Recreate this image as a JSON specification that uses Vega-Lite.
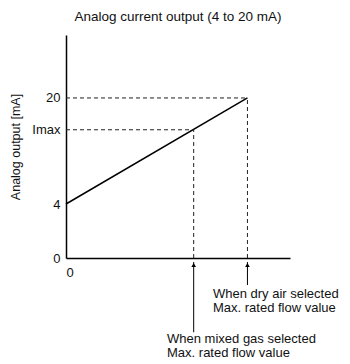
{
  "$schema": "https://vega.github.io/schema/vega-lite/v6.json",
  "autosize": "none",
  "width": 224,
  "height": 223,
  "padding": {"left": 66, "top": 35, "right": 60, "bottom": 106},
  "background": "white",
  "config": {
    "view": {"stroke": null},
    "font": "Liberation Sans",
    "axis": {"grid": false, "domainColor": "black", "domainWidth": 1.5, "ticks": false, "labelFont": "Liberation Sans", "labelFontSize": 13, "labelColor": "#111", "titleFont": "Liberation Sans", "titleFontSize": 12.5, "titleFontWeight": "normal", "titleColor": "#111"}
  },
  "title": {"text": "Analog current output (4 to 20 mA)", "font": "Liberation Sans", "fontSize": 13.5, "fontWeight": "normal", "color": "#111", "offset": 12},
  "datasets": {
    "line": [{"flow": 0, "mA": 4}, {"flow": 81, "mA": 20}],
    "guides": [
      {"flow": 0, "flow2": 81, "mA": 20, "mA2": 20},
      {"flow": 0, "flow2": 57, "mA": 15.2, "mA2": 15.2},
      {"flow": 81, "flow2": 81, "mA": 0, "mA2": 20},
      {"flow": 57, "flow2": 57, "mA": 0, "mA2": 15.2}
    ],
    "arrows": [
      {"flow": 57, "tip": -0.3, "tail": -5.5, "label": ["When mixed gas selected", "Max. rated flow value"], "labelFlow": 45.1, "labelY": -5.55},
      {"flow": 81, "tip": -0.3, "tail": -2.0, "label": ["When dry air selected", "Max. rated flow value"], "labelFlow": 65.6, "labelY": -2.2}
    ]
  },
  "layer": [
    {
      "data": {"name": "line"},
      "mark": {"type": "line", "color": "black", "strokeWidth": 1.5},
      "encoding": {
        "x": {"field": "flow", "type": "quantitative", "scale": {"domain": [0, 100], "nice": false},
          "axis": {"title": null, "values": [0], "labelExpr": "'0'", "labelAlign": "left", "labelDx": 2, "labelPadding": 8, "labelFlush": false}},
        "y": {"field": "mA", "type": "quantitative", "scale": {"domain": [0, 4, 29.5], "range": [223, 169, 0], "nice": false, "zero": false},
          "axis": {"title": "Analog output [mA]", "values": [0, 4, 15.2, 20], "labelExpr": "datum.value == 15.2 ? 'Imax' : datum.label", "labelPadding": 6, "titlePadding": 9}}
      }
    },
    {
      "data": {"name": "guides"},
      "mark": {"type": "rule", "color": "#222", "strokeWidth": 1, "strokeDash": [4, 3]},
      "encoding": {
        "x": {"field": "flow", "type": "quantitative"},
        "x2": {"field": "flow2"},
        "y": {"field": "mA", "type": "quantitative"},
        "y2": {"field": "mA2"}
      }
    },
    {
      "data": {"name": "arrows"},
      "mark": {"type": "rule", "color": "black", "strokeWidth": 1},
      "encoding": {
        "x": {"field": "flow", "type": "quantitative"},
        "y": {"field": "tip", "type": "quantitative"},
        "y2": {"field": "tail"}
      }
    },
    {
      "data": {"name": "arrows"},
      "mark": {"type": "point", "shape": "triangle-up", "filled": true, "color": "black", "size": 22, "opacity": 1, "yOffset": 3},
      "encoding": {
        "x": {"field": "flow", "type": "quantitative"},
        "y": {"field": "tip", "type": "quantitative"}
      }
    },
    {
      "data": {"name": "arrows"},
      "mark": {"type": "text", "align": "left", "baseline": "top", "fontSize": 13, "lineHeight": 14.5, "color": "#111", "font": "Liberation Sans"},
      "encoding": {
        "x": {"field": "labelFlow", "type": "quantitative"},
        "y": {"field": "labelY", "type": "quantitative"},
        "text": {"field": "label"}
      }
    }
  ]
}
